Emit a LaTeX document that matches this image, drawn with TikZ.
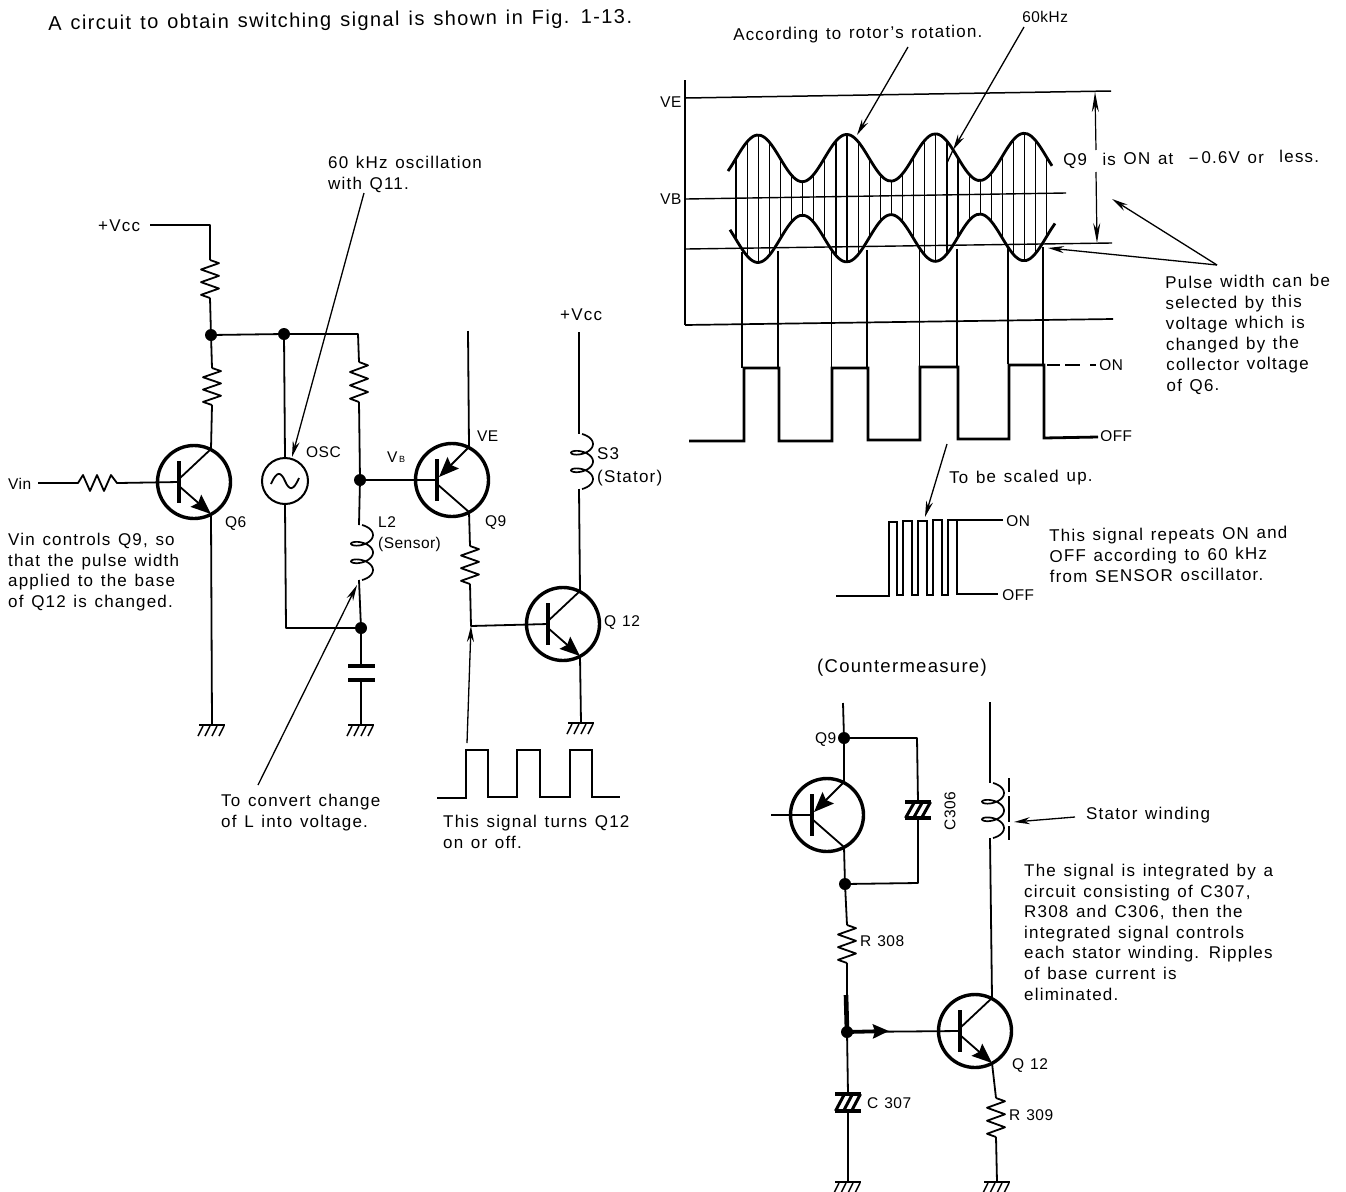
\documentclass[tikz,border=0pt]{standalone}
\usepackage{fontspec}
\setmainfont{Liberation Sans}[LetterSpace=7,WordSpace=1.3]
\newfontfamily\tightfont{Liberation Sans}[LetterSpace=3,WordSpace=1.25]
\usetikzlibrary{arrows.meta}
\newcommand\fss{\tightfont\fontsize{15.5}{20.6}\selectfont}
\newcommand\fsm{\fontsize{17}{20.6}\selectfont}
\newcommand\fsl{\fontsize{20}{22}\selectfont}
\tikzset{
  wire/.style={line width=1.8pt,line join=round},
  heavy/.style={line width=2.8pt,line join=miter},
  plate/.style={line width=4pt},
  dot/.style={circle,fill=black,inner sep=0,minimum size=12pt},
  trc/.style={circle,draw,line width=3.4pt,inner sep=0,minimum size=73pt},
  osc/.style={circle,draw,line width=2pt,inner sep=0,minimum size=46pt},
  pointer/.style={line width=1.3pt,-{Stealth[length=16pt,width=7pt]}},
  emit/.style={line width=1.8pt,-{Stealth[length=20pt,width=16pt,inset=3pt]}},
  lbl/.style={inner sep=0,anchor=west,font=\fss},
  txt/.style={inner sep=0,anchor=west,font=\fsm},
  block/.style={inner sep=0,anchor=north west,align=left,font=\fsm},
  tilted/.style={rotate=0.7},
}
% vertical resistor between y-values: #1 name, #2 x, #3 y start, #4 y end
\newcommand\resV[4]{%
  \pgfmathsetmacro\zd{(#4-#3)/6}%
  \coordinate (#1-a) at (#2,#3);\coordinate (#1-b) at (#2,#4);%
  \draw[wire] (#1-a) -- ++(9,{\zd/2}) -- ++(-18,\zd) -- ++(18,\zd) -- ++(-18,\zd) -- ++(18,\zd) -- ++(-18,\zd) -- (#1-b);}
% inductor: #1 name, #2 x, #3 y start, #4 y end
\newcommand\coilV[4]{%
  \pgfmathsetmacro\cs{(#4-#3)/19.7}%
  \coordinate (#1-a) at (#2,#3);\coordinate (#1-b) at (#2,#4);%
  \draw[line width=1.7pt] plot[smooth,domain=0:900,samples=70,variable=\t]
    ({#2+3+11*sin(\t)},{#3+\cs*\t/57.3+2*\cs*(1-cos(\t))});}
% hatched capacitor: #1 name, #2 x, #3 top plate y, #4 bottom plate y, #5 half width
\newcommand\capH[5]{%
  \coordinate (#1-a) at (#2,#3);\coordinate (#1-b) at (#2,#4);%
  \draw[plate] (#2-#5,#3) -- (#2+#5,#3);\draw[plate] (#2-#5,#4) -- (#2+#5,#4);%
  \foreach \k in {-8,0,8}{\draw[line width=3pt] (#2+\k-4.5,#4) -- (#2+\k+4.5,#3);}}
% ground: #1 name, #2 x, #3 y
\newcommand\gnd[3]{%
  \coordinate (#1) at (#2,#3);%
  \draw[line width=2.8pt] (#2-13,#3) -- (#2+13,#3);%
  \foreach \k in {-9,-2,5,12}{\draw[line width=1.5pt] (#2+\k,#3+1) -- (#2+\k-5,#3+11);}}
% transistors: #1 name, #2 x, #3 y
\newcommand\trbody[3]{%
  \node[trc] (#1) at (#2,#3) {};%
  \coordinate (#1-bar) at (#2-15,#3);%
  \coordinate (#1-up) at (#2+17,#3-33);%
  \coordinate (#1-lo) at (#2+17,#3+32);%
  \draw[line width=4.8pt] (#2-15,#3-21) -- (#2-15,#3+21);}
\newcommand\NPN[3]{\trbody{#1}{#2}{#3}%
  \draw[wire] (#2-15,#3-3) -- (#1-up);\draw[emit] (#2-15,#3+4) -- (#1-lo);}
\newcommand\PNP[3]{\trbody{#1}{#2}{#3}%
  \draw[emit] (#1-up) -- (#2-13,#3-3);\draw[wire] (#2-15,#3+4) -- (#1-lo);}
\begin{document}
\begin{tikzpicture}[x=1pt,y=-1pt,
  declare function={up(\x)=158.5-0.0065*(\x-758)-23.5*cos((\x-758)/88.7*360);
                    lo(\x)=239-0.0065*(\x-758)+23.5*cos((\x-758)/88.7*360);}]
\useasboundingbox (0,0) rectangle (1346,1191);
% ===== header =====
\node[lbl,font=\fsl,tilted] (hdr) at (48,25) {A circuit to obtain switching signal is shown in Fig. 1-13.};
% ===== left circuit =====
\node[txt] (vcc1) at (98,226) {+Vcc};
\coordinate (vcc1w) at (150,225);\coordinate (vcc1c) at (210,225);
\node[dot] (j1) at (211,335) {};
\node[dot] (j2) at (284,334) {};
\coordinate (tr) at (358,334);
\node[dot] (j3) at (360,480) {};
\node[dot] (j4) at (361,628) {};
\NPN{q6}{194}{482}
\PNP{q9a}{452}{480}
\NPN{q12a}{563}{624}
\resV{r1}{210}{260}{298}
\resV{r2}{212}{368}{405}
\resV{r3}{359}{362}{402}
\resV{r4}{470}{546}{584}
\coilV{l2}{359}{525}{580}
\coilV{s3}{579}{434}{489}
\coordinate (c1a) at (361,666);\coordinate (c1b) at (361,680);
\draw[plate] (348,666) -- (375,666);\draw[plate] (348,680) -- (375,680);
\gnd{g1}{212}{725}
\gnd{g2}{361}{725}
\gnd{g3}{581}{723}
\draw[wire] (vcc1w) -- (vcc1c) -- (r1-a);
\draw[wire] (r1-b) -- (j1) -- (r2-a);
\draw[wire] (r2-b) -- (q6-up);
\draw[wire] (j1) -- (j2) -- (tr) -- (r3-a);
\draw[wire] (r3-b) -- (j3) -- (l2-a);
\draw[wire] (l2-b) -- (j4) -- (c1a);
\draw[wire] (c1b) -- (g2);
\draw[wire] (q6-lo) -- (g1);
% Vin and its resistor
\node[lbl] (vin) at (8,484) {Vin};
\coordinate (vinw) at (38,483);\coordinate (vr1) at (78,483);\coordinate (vr2) at (118,483);
\draw[wire] (vinw) -- (vr1) -- ++(5,-8) -- ++(7,16) -- ++(7,-16) -- ++(7,16) -- ++(7,-16) -- ++(6,8) -- (vr2) -- (q6-bar);
% OSC
\node[osc] (osc) at (285,481) {};
\draw[line width=1.8pt] (271,484) .. controls (277,470) and (281,472) .. (285,481) .. controls (289,490) and (293,492) .. (299,478);
\draw[wire] (j2) -- (osc.north);
\coordinate (oscd) at (286,628);
\draw[wire] (osc.south) -- (oscd) -- (j4);
% Q9 wiring
\coordinate (ve) at (468,331);
\draw[wire] (ve) -- (q9a-up);
\draw[wire] (j3) -- (q9a-bar);
\draw[wire] (q9a-lo) -- (r4-a);
\coordinate (q12n) at (471,626);
\draw[wire] (r4-b) -- (q12n) -- (q12a-bar);
% Q12 wiring
\coordinate (vcc2w) at (579,332);
\draw[wire] (vcc2w) -- (s3-a);
\draw[wire] (s3-b) -- (q12a-up);
\draw[wire] (q12a-lo) -- (g3);
% signal at Q12
\coordinate (s0) at (437,798);\coordinate (sp) at (467,743);
\draw[line width=2.3pt] (s0) -- (466,798) -- (466,750) -- (488,750) -- (488,797) -- (517,797) -- (517,750) -- (540,750) -- (540,797) -- (570,797) -- (570,750) -- (592,750) -- (592,797) -- (620,797);
\draw[pointer] (sp) -- (q12n);
% pointers
\coordinate (p1) at (364,193);
\draw[pointer] (p1) -- (292,457);
\coordinate (p2) at (258,785);\coordinate (p2e) at (357,585);
\draw[pointer] (p2) -- (p2e);
% left labels
\node[block] (t60) at (328,156) {60 kHz oscillation\\with Q11.};
\node[lbl] (tosc) at (306,452) {OSC};
\node[lbl] (tvb) at (387,457) {V{\fontsize{9}{9}\selectfont\,B}};
\node[lbl] (tve) at (477,436) {VE};
\node[lbl] (tq9) at (485,523) {Q9};
\node[lbl] (tq12) at (604,623) {Q 12};
\node[txt] (tvcc2) at (560,315) {+Vcc};
\node[block] (ts3) at (597,447) {S3\\[3pt](Stator)};
\node[block,font=\fss] (tl2) at (378,516) {L2\\[1pt](Sensor)};
\node[lbl] (tq6) at (225,524) {Q6};
\node[block] (tvinc) at (8,533) {Vin controls Q9, so\\that the pulse width\\applied to the base\\of Q12 is changed.};
\node[block] (tconv) at (221,794) {To convert change\\of L into voltage.};
\node[block] (tturn) at (443,815) {This signal turns Q12\\on or off.};
% ===== waveform chart =====
\node[lbl,tilted] (tve2) at (660,102) {VE};
\node[lbl,tilted] (tvb2) at (660,199) {VB};
\coordinate (ax0) at (685,80);\coordinate (ax1) at (685,325);
\draw[line width=1.8pt] (ax0) -- (ax1);
\draw[line width=1.5pt] (686,98) -- (1111,91);
\draw[line width=1.4pt] (686,199) -- (1066,193);
\draw[line width=1.4pt] (686,249) -- (1112,243);
\draw[line width=1.7pt] (ax1) -- (1113,319);
\foreach \x in {736,747.1,...,1050}{
  \draw[line width=1.2pt] (\x,{up(\x)}) -- (\x,{lo(\x)});}
\draw[line width=2.8pt] plot[smooth,domain=728:1052,samples=80,variable=\x] (\x,{up(\x)});
\draw[line width=2.8pt] plot[smooth,domain=730:1055,samples=80,variable=\x] (\x,{lo(\x)});
\foreach \x/\yy in {742/368,778/368,831.5/368,867/368,919.5/367,957/367,1008/364,1043/364}{
  \draw[line width=1.2pt] (\x,{252-(\x-742)*0.016}) -- (\x,\yy);}
\draw[heavy] (689,441) -- (744,441) -- (744,368) -- (779,368) -- (779,441) -- (832,441) -- (832,368) -- (868,368) -- (868,440) -- (920,440) -- (920,367) -- (958,367) -- (958,439) -- (1009,439) -- (1009,365) -- (1044,365) -- (1044,438) -- (1098,437);
\draw[line width=1.3pt] (1047,365) -- (1060,365);\draw[line width=1.7pt] (1065,365) -- (1080,365);\draw[line width=1.7pt] (1090,365) -- (1096,365);
\node[lbl,tilted] (ton) at (1099,365) {ON};
\node[lbl,tilted] (toff) at (1100,436) {OFF};
% dimension arrow
\coordinate (d1) at (1095,92);\coordinate (d2) at (1097,243);
\draw[line width=1.2pt,{Stealth[length=20pt,width=7pt]}-] (d1) -- (1096,150);
\draw[line width=1.2pt,-{Stealth[length=20pt,width=7pt]}] (1096,172) -- (d2);
\node[txt,tilted] (tq9on) at (1063,161) {Q9\ \ is ON at\ \ −\,0.6V or\ \ less.};
% top pointers
\node[txt,tilted] (taccord) at (733,36) {According to rotor's rotation.};
\node[lbl,tilted] (t60k) at (1022,17) {60kHz};
\coordinate (pa) at (908,47);\coordinate (pb) at (1024,27);
\draw[pointer] (pa) -- (857,135);
\draw[pointer] (pb) -- (953,150);
\draw[line width=1.3pt] (953,150) -- (947,163);
% pulse width pointers
\coordinate (pw) at (1217,265);
\draw[pointer] (pw) -- (1112,199);
\draw[pointer] (pw) -- (1048,248);
\node[block,tilted] (tpw) at (1165,276) {Pulse width can be\\selected by this\\voltage which is\\changed by the\\collector voltage\\of Q6.};
% scaled-up signal
\coordinate (ps) at (947,444);
\draw[pointer] (ps) -- (925,517);
\node[txt,tilted] (tscale) at (949,479) {To be scaled up.};
\draw[line width=2.6pt,line join=miter] (836,596) -- (889,596) -- (889,522) -- (897,522) -- (897,595) -- (903,595) -- (903,521) -- (912,521) -- (912,595) -- (918,595) -- (918,521) -- (927,521) -- (927,595) -- (933,595) -- (933,520) -- (942,520) -- (942,595) -- (948,595) -- (948,520) -- (957,520) -- (957,594) -- (998,594);
\draw[line width=1.6pt] (957,520) -- (1003,520);
\node[lbl,tilted] (ton2) at (1006,521) {ON};
\node[lbl,tilted] (toff2) at (1002,595) {OFF};
\node[block,tilted] (trep) at (1049,529) {This signal repeats ON and\\OFF according to 60 kHz\\from SENSOR oscillator.};
% ===== countermeasure =====
\node[txt,font=\fontsize{18.5}{20}\selectfont] (tcm) at (817,668) {(Countermeasure)};
\PNP{q9b}{827}{815}
\NPN{q12b}{975}{1031}
\node[dot] (k1) at (844,738) {};
\node[dot] (k2) at (845,884) {};
\node[dot] (k3) at (847,1032) {};
\coordinate (k0) at (843,703);
\coordinate (kr1) at (917,738);\coordinate (kr2) at (918,883);
\coordinate (kb) at (771,815);
\capH{c306}{918}{802}{818}{13}
\capH{c307}{848}{1094}{1111}{13}
\resV{r308}{847}{925}{963}
\resV{r309}{996}{1098}{1137}
\coilV{ls}{990}{783}{838}
\gnd{g4}{848}{1182}
\gnd{g5}{997}{1182}
\draw[wire] (k0) -- (k1) -- (q9b-up);
\draw[wire] (k1) -- (kr1) -- (c306-a);
\draw[wire] (c306-b) -- (kr2) -- (k2);
\draw[wire] (q9b-lo) -- (k2) -- (r308-a);
\draw[wire] (kb) -- (q9b-bar);
\draw[wire] (r308-b) -- (k3) -- (c307-a);
\draw[wire] (c307-b) -- (g4);
\draw[wire] (k3) -- (q12b-bar);
\coordinate (kt) at (846,995);\coordinate (ka) at (889,1031);
\draw[line width=4.6pt] (kt) -- (k3.center);
\draw[line width=3.8pt,-{Stealth[length=16pt,width=14pt,inset=2pt]}] (k3.center) -- (ka);
\coordinate (ltop) at (990,702);
\draw[wire] (ltop) -- (ls-a);
\draw[wire] (ls-b) -- (q12b-up);
\draw[wire] (q12b-lo) -- (r309-a);
\draw[wire] (r309-b) -- (g5);
\coordinate (core1) at (1009,778);\coordinate (core2) at (1009,842);
\draw[line width=2.2pt,dash pattern=on 14pt off 4pt on 26pt off 4pt on 14pt] (core1) -- (core2);
\coordinate (ps2) at (1075,817);
\draw[pointer] (ps2) -- (1014,822);
% labels
\node[txt] (tsw) at (1086,815) {Stator winding};
\node[lbl] (tq9b) at (815,740) {Q9};
\node[lbl,anchor=center,rotate=90] (tc306) at (950,811) {C306};
\node[lbl] (tr308) at (860,941) {R 308};
\node[lbl] (tc307) at (867,1103) {C 307};
\node[lbl] (tq12b) at (1012,1066) {Q 12};
\node[lbl] (tr309) at (1009,1115) {R 309};
\node[block] (tint) at (1024,864) {The signal is integrated by a\\circuit consisting of C307,\\R308 and C306, then the\\integrated signal controls\\each stator winding. Ripples\\of base current is\\eliminated.};
\end{tikzpicture}
\end{document}
